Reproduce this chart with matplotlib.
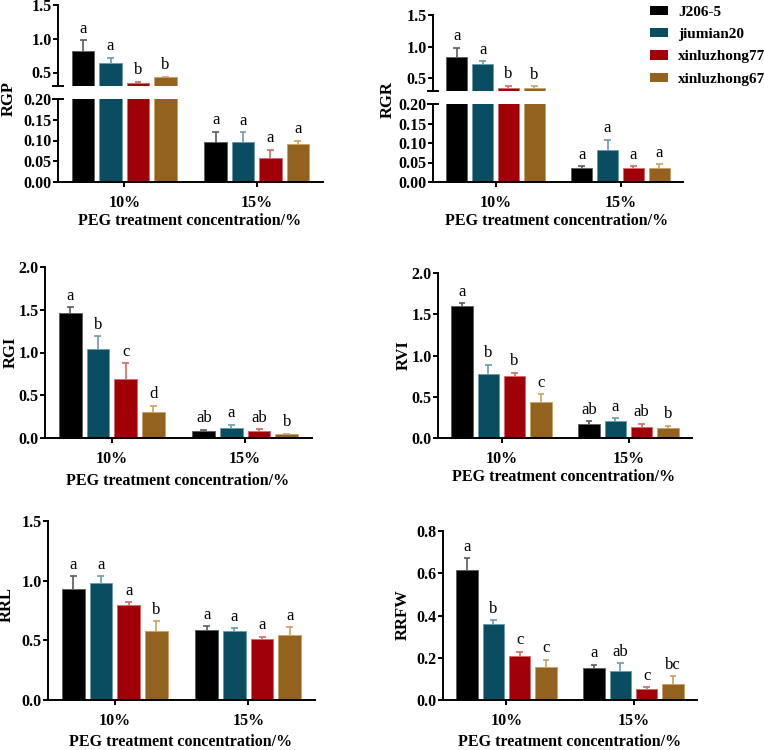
import numpy as np
import matplotlib
matplotlib.use("Agg")
import matplotlib.pyplot as plt
from matplotlib.patches import Patch

plt.rcParams['font.family'] = ['Liberation Serif', 'DejaVu Serif']

# data
varieties = ['J206-5', 'jiumian20', 'xinluzhong77', 'xinluzhong67']
conc = ['10%', '15%']

rgp_mean = [[0.82, 0.64, 0.34, 0.43], [0.097, 0.097, 0.057, 0.091]]
rgp_top = [[0.975, 0.72, 0.36, 0.44], [0.121, 0.120, 0.078, 0.100]]
rgp_let = [['a', 'a', 'b', 'b'], ['a', 'a', 'a', 'a']]

rgr_mean = [[0.835, 0.72, 0.35, 0.345], [0.035, 0.081, 0.035, 0.035]]
rgr_top = [[0.98, 0.77, 0.385, 0.375], [0.041, 0.108, 0.041, 0.046]]
rgr_let = [['a', 'a', 'b', 'b'], ['a', 'a', 'a', 'a']]

rgi_mean = [[1.467, 1.046, 0.687, 0.30], [0.082, 0.117, 0.082, 0.050]]
rgi_top = [[1.53, 1.19, 0.874, 0.38], [0.094, 0.156, 0.105, 0.052]]
rgi_let = [['a', 'b', 'c', 'd'], ['ab', 'a', 'ab', 'b']]

rvi_mean = [[1.606, 0.772, 0.748, 0.435], [0.175, 0.211, 0.134, 0.118]]
rvi_top = [[1.634, 0.886, 0.793, 0.528], [0.203, 0.240, 0.171, 0.150]]
rvi_let = [['a', 'b', 'b', 'c'], ['ab', 'a', 'ab', 'b']]

rrl_mean = [[0.927, 0.978, 0.799, 0.578], [0.584, 0.578, 0.511, 0.542]]
rrl_top = [[1.036, 1.036, 0.821, 0.662], [0.617, 0.600, 0.531, 0.609]]
rrl_let = [['a', 'a', 'a', 'b'], ['a', 'a', 'a', 'a']]

rrfw_mean = [[0.617, 0.359, 0.206, 0.156], [0.151, 0.137, 0.054, 0.077]]
rrfw_top = [[0.672, 0.378, 0.228, 0.190], [0.168, 0.173, 0.061, 0.112]]
rrfw_let = [['a', 'b', 'c', 'c'], ['a', 'ab', 'c', 'bc']]

colors = ['#000000', '#0a4d60', '#a00008', '#93621f']
ecolors = ['#5a5a5a', '#6a9aab', '#d46868', '#c9a064']

W, H = 764, 750
fig = plt.figure(figsize=(W / 100, H / 100), dpi=100)

TICKFONT = dict(family='Liberation Serif', weight='bold', size=11.5)
BW = 0.17
STEP = 0.207


def box(x0, x1, ytop, ybot):
    return [x0 / W, 1 - ybot / H, (x1 - x0) / W, (ybot - ytop) / H]


def style(ax, show_x=True):
    for s in ['top', 'right']:
        ax.spines[s].set_visible(False)
    ax.spines['left'].set_linewidth(1.4)
    ax.spines['bottom'].set_linewidth(1.4)
    ax.tick_params(width=1.4, length=3.5, pad=1)
    ax.set_xlim(-0.5, 1.5)
    if show_x:
        ax.set_xticks([0, 1])
        ax.set_xticklabels(conc, **TICKFONT)
        ax.tick_params(axis='x', pad=6)
    else:
        ax.spines['bottom'].set_visible(False)
        ax.set_xticks([])
    for lb in ax.get_yticklabels():
        lb.set_fontproperties(matplotlib.font_manager.FontProperties(**TICKFONT))


def draw(axes, mean, top, let):
    for g in range(2):
        for i in range(4):
            x = g + (i - 1.5) * STEP
            v, t = mean[g][i], top[g][i]
            for ax in axes:
                ax.bar(x, v, width=BW, color=colors[i], edgecolor=ecolors[i], linewidth=0.6, zorder=2)
                ax.vlines(x, v, t, color=ecolors[i], lw=1.2, zorder=3)
                ax.hlines(t, x - 0.026, x + 0.026, color=ecolors[i], lw=1.2, zorder=3)
            # put the letter in the axes that holds the error bar top
            target = axes[0]
            for ax in axes:
                lo, hi = ax.get_ylim()
                if lo <= t <= hi:
                    target = ax
            target.annotate(let[g][i], (x, t), xytext=(0, 2.5), textcoords='offset points',
                            ha='center', va='bottom', fontsize=12, family='Liberation Serif')


def broken(x0, x1, ytop, ybrk1, ybrk2, ybot, mean, top, let):
    up = fig.add_axes(box(x0, x1, ytop, ybrk1))
    lo = fig.add_axes(box(x0, x1, ybrk2, ybot))
    up.set_ylim(0.3, 1.5)
    up.set_yticks([0.5, 1.0, 1.5])
    up.set_yticklabels(['0.5', '1.0', '1.5'])
    lo.set_ylim(0, 0.2)
    lo.set_yticks([0, 0.05, 0.10, 0.15, 0.20])
    lo.set_yticklabels(['0.00', '0.05', '0.10', '0.15', '0.20'])
    style(up, show_x=False)
    style(lo)
    draw([up, lo], mean, top, let)
    # break caps on the y spine
    up.plot([0], [0], marker='_', ms=8, mew=1.4, color='k', transform=up.transAxes, clip_on=False)
    lo.plot([0], [1], marker='_', ms=8, mew=1.4, color='k', transform=lo.transAxes, clip_on=False)
    return lo


def single(x0, x1, ytop, ybot, ymax, yticks, ylabels, mean, top, let):
    ax = fig.add_axes(box(x0, x1, ytop, ybot))
    ax.set_ylim(0, ymax)
    ax.set_yticks(yticks)
    ax.set_yticklabels(ylabels)
    style(ax)
    draw([ax], mean, top, let)
    return ax


xl = 'PEG treatment concentration/%'
LABFONT = dict(family='Liberation Serif', weight='bold', size=12)

ax1 = broken(58, 323, 5, 86, 99, 182, rgp_mean, rgp_top, rgp_let)
ax2 = broken(433, 683, 15, 91, 104, 182, rgr_mean, rgr_top, rgr_let)
ax3 = single(45, 312, 267, 438, 2.0, [0, 0.5, 1.0, 1.5, 2.0], ['0.0', '0.5', '1.0', '1.5', '2.0'],
             rgi_mean, rgi_top, rgi_let)
ax4 = single(438, 692, 273, 438, 2.0, [0, 0.5, 1.0, 1.5, 2.0], ['0.0', '0.5', '1.0', '1.5', '2.0'],
             rvi_mean, rvi_top, rvi_let)
ax5 = single(48, 315, 521, 700, 1.5, [0, 0.5, 1.0, 1.5], ['0.0', '0.5', '1.0', '1.5'],
             rrl_mean, rrl_top, rrl_let)
ax6 = single(443, 697, 531, 700, 0.8, [0, 0.2, 0.4, 0.6, 0.8], ['0.0', '0.2', '0.4', '0.6', '0.8'],
             rrfw_mean, rrfw_top, rrfw_let)

# x labels
for cx, cy in [(190, 221), (557, 221), (178, 481), (564, 477), (181, 742), (570, 742)]:
    fig.text(cx / W, 1 - cy / H, xl, ha='center', va='center', fontsize=11.5,
             family='Liberation Serif', weight='bold')

# y labels
for name, cx, cy in [('RGP', 9, 98), ('RGR', 388, 100), ('RGI', 11, 352),
                     ('RVI', 404, 355), ('RRL', 7, 604), ('RRFW', 403, 615)]:
    fig.text(cx / W, 1 - cy / H, name, ha='center', va='center', rotation=90, **LABFONT)

handles = [Patch(facecolor=c, edgecolor='none') for c in colors]
fig.legend(handles, varieties, loc='upper left', bbox_to_anchor=(650 / W, 1 - 6 / H),
           frameon=False, handlelength=1.15, handleheight=0.55, handletextpad=0.7,
           labelspacing=0.6, borderaxespad=0, borderpad=0,
           prop=dict(family='Liberation Serif', weight='bold', size=11))

fig.savefig('out.png', dpi=100)
